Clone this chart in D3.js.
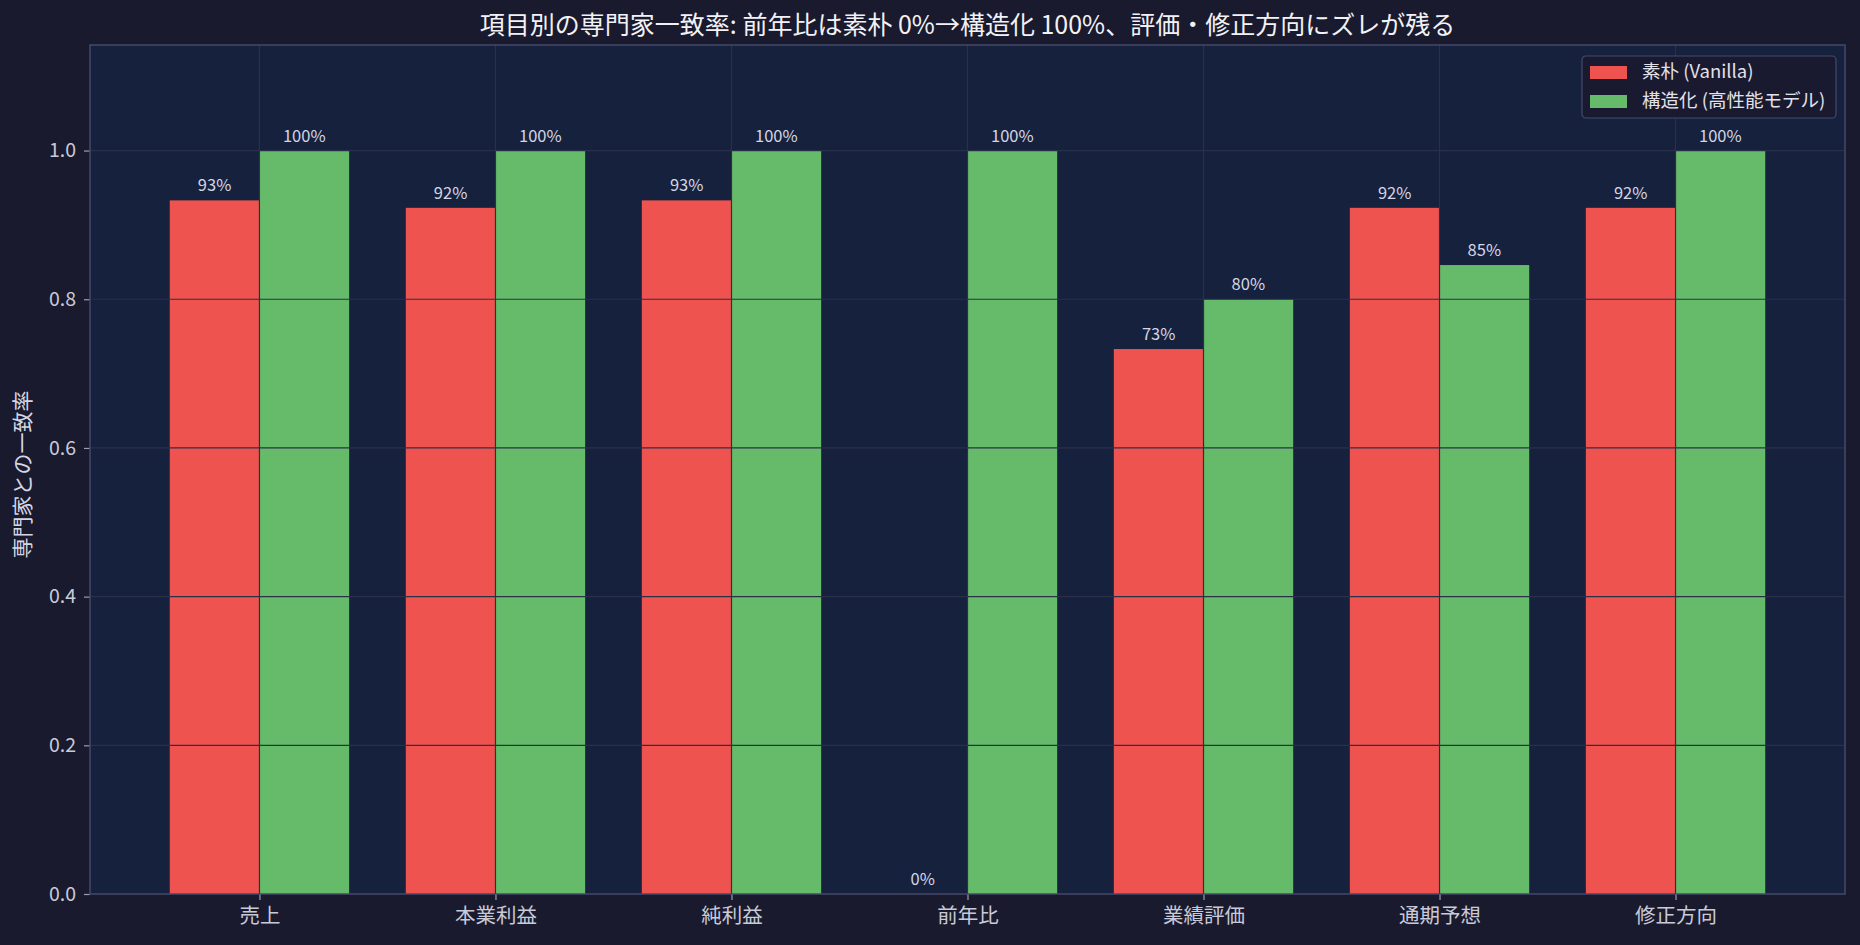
<!DOCTYPE html>
<html>
<head>
<meta charset="utf-8">
<script src="https://cdn.jsdelivr.net/npm/d3@7"></script>
<style>
  html, body { margin: 0; padding: 0; background: #1a1a2e; }
  svg { display: block; font-family: "Noto Sans CJK JP", "Noto Sans", sans-serif; }
</style>
</head>
<body>
<div id="chart"></div>
<script>
var categories = ["売上", "本業利益", "純利益", "前年比", "業績評価", "通期予想", "修正方向"];
var vanilla = [0.933, 0.923, 0.933, 0.0, 0.733, 0.923, 0.923];
var structured = [1.0, 1.0, 1.0, 1.0, 0.8, 0.846, 1.0];
var seriesNames = ["素朴 (Vanilla)", "構造化 (高性能モデル)"];
var yTicks = [0.0, 0.2, 0.4, 0.6, 0.8, 1.0];

var width = 1860, height = 945;
var plotLeft = 90, plotRight = 1845, plotTop = 45, plotBottom = 894;
var barW = 0.38;
var colors = ["#ef5350", "#66bb6a"];

var svg = d3.select("#chart").append("svg")
    .attr("width", width)
    .attr("height", height);

svg.append("rect")
    .attr("width", width)
    .attr("height", height)
    .attr("fill", "#1a1a2e");

// matplotlib style: 5% margin around bars
var pad = 0.05 * (categories.length - 1 + 2 * barW);
var x = d3.scaleLinear()
    .domain([-barW - pad, categories.length - 1 + barW + pad])
    .range([plotLeft, plotRight]);

var y = d3.scaleLinear()
    .domain([0, 1.142])
    .range([plotBottom, plotTop]);

svg.append("rect")
    .attr("x", plotLeft)
    .attr("y", plotTop)
    .attr("width", plotRight - plotLeft)
    .attr("height", plotBottom - plotTop)
    .attr("fill", "#16213e");

var series = [vanilla, structured];

series.forEach(function(vals, s) {
    svg.selectAll(".bar" + s)
        .data(vals)
        .enter().append("rect")
        .attr("class", "bar" + s)
        .attr("x", function(d, i) { return x(s == 0 ? i - barW : i); })
        .attr("y", function(d) { return y(d); })
        .attr("width", x(barW) - x(0))
        .attr("height", function(d) { return plotBottom - y(d); })
        .attr("fill", colors[s]);
});

// grid on top of the bars
var grid = svg.append("g").attr("class", "grid");
grid.selectAll(".hgrid")
    .data(yTicks.slice(1))
    .enter().append("line")
    .attr("x1", plotLeft).attr("x2", plotRight)
    .attr("y1", function(d) { return y(d); })
    .attr("y2", function(d) { return y(d); })
    .attr("stroke", "#2a3048")
    .attr("stroke-width", 1.2);
grid.selectAll(".vgrid")
    .data(categories)
    .enter().append("line")
    .attr("x1", function(d, i) { return x(i); })
    .attr("x2", function(d, i) { return x(i); })
    .attr("y1", plotTop).attr("y2", plotBottom)
    .attr("stroke", "#2a3048")
    .attr("stroke-width", 1.2);

// value labels
series.forEach(function(vals, s) {
    svg.selectAll(".lbl" + s)
        .data(vals)
        .enter().append("text")
        .attr("x", function(d, i) { return x(s == 0 ? i - barW / 2 : i + barW / 2); })
        .attr("y", function(d) { return y(d) - 9; })
        .attr("text-anchor", "middle")
        .attr("font-size", "16.5px")
        .attr("fill", "#d4d6e4")
        .text(function(d) { return Math.round(d * 100) + "%"; });
});

// axes
var yAxis = svg.append("g")
    .attr("transform", "translate(" + plotLeft + ",0)")
    .call(d3.axisLeft(y).tickValues(yTicks).tickFormat(d3.format(".1f")).tickSize(6).tickPadding(8));

var xAxis = svg.append("g")
    .attr("transform", "translate(0," + plotBottom + ")")
    .call(d3.axisBottom(x).tickValues(d3.range(categories.length))
        .tickFormat(function(d) { return categories[d]; }).tickSize(6).tickPadding(8));

[xAxis, yAxis].forEach(function(a) {
    a.select(".domain").remove();
    a.selectAll(".tick line").attr("stroke", "#9a9db4").attr("stroke-width", 1.2);
    a.selectAll(".tick text").attr("fill", "#c8cad8").attr("font-family", "Noto Sans CJK JP");
});
yAxis.selectAll(".tick text").attr("font-size", "19.5px");
xAxis.selectAll(".tick text").attr("font-size", "20.5px");

// frame
svg.append("rect")
    .attr("x", plotLeft)
    .attr("y", plotTop)
    .attr("width", plotRight - plotLeft)
    .attr("height", plotBottom - plotTop)
    .attr("fill", "none")
    .attr("stroke", "#444a6a")
    .attr("stroke-width", 1.5);

// title
svg.append("text")
    .attr("x", (plotLeft + plotRight) / 2)
    .attr("y", 34)
    .attr("text-anchor", "middle")
    .attr("font-size", "25px")
    .attr("fill", "#f2f2f6")
    .text("項目別の専門家一致率: 前年比は素朴 0%→構造化 100%、評価・修正方向にズレが残る");

// y label
svg.append("text")
    .attr("transform", "translate(30," + ((plotTop + plotBottom) / 2 + 5) + ") rotate(-90)")
    .attr("text-anchor", "middle")
    .attr("font-size", "21px")
    .attr("fill", "#d4d6e4")
    .text("専門家との一致率");

// legend
var legend = svg.append("g").attr("transform", "translate(1582,56)");
legend.append("rect")
    .attr("width", 254)
    .attr("height", 62)
    .attr("rx", 4)
    .attr("fill", "#1a1a2e")
    .attr("fill-opacity", 0.9)
    .attr("stroke", "#444a6a")
    .attr("stroke-width", 1.2);
seriesNames.forEach(function(name, s) {
    legend.append("rect")
        .attr("x", 8)
        .attr("y", 10 + s * 29)
        .attr("width", 37)
        .attr("height", 13)
        .attr("fill", colors[s]);
    legend.append("text")
        .attr("x", 60)
        .attr("y", 16 + s * 29)
        .attr("dy", "0.35em")
        .attr("font-size", "18.5px")
        .attr("fill", "#e2e2ea")
        .text(name);
});
</script>
</body>
</html>
